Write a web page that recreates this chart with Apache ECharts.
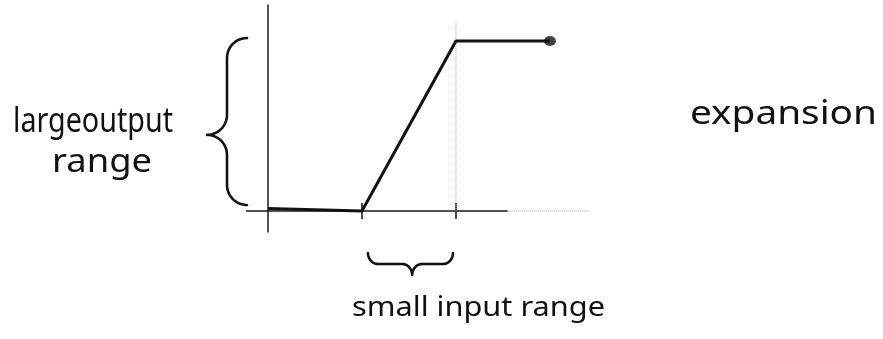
<!DOCTYPE html>
<html>
<head>
<meta charset="utf-8">
<script src="https://cdn.jsdelivr.net/npm/echarts@6/dist/echarts.min.js"></script>
<style>
  html, body { margin: 0; padding: 0; background: #fff; }
  #chart { width: 883px; height: 339px; }
</style>
</head>
<body>
<div id="chart"></div>
<script>
// Transfer curve of an expander: input level -> output level
const inputLevels = [0, 1, 2, 3];
const outputLevels = [0.015, 0, 1, 1];

// Edges of the small input range, marked on the input axis
const inputRangeTicks = [1, 2];

// Faint guide rising from the upper edge of the input range
const guideX = 2;
const guideTop = 1.12;

// Input axis: firmly drawn part, then a faint dotted continuation
const axisSolidEnd = 2.55;

// Visible extent of both axes
const xDomain = [-0.234, 3.426];
const yDomain = [-0.1235, 1.2118];

// Annotation texts
const outputLabelLines = ['largeoutput', 'range'];
const modeLabel = 'expansion';
const inputLabel = 'small input range';

const INK = '#111';
const FONT = '"Noto Sans", "DejaVu Sans", sans-serif';

const chart = echarts.init(document.getElementById('chart'), null, { renderer: 'canvas' });

chart.setOption({
  animation: false,
  backgroundColor: '#fff',
  grid: { left: 246, right: 293, top: 5, bottom: 107 },
  xAxis: {
    type: 'value', min: xDomain[0], max: xDomain[1],
    axisLine: { show: false }, axisTick: { show: false },
    axisLabel: { show: false }, splitLine: { show: false }
  },
  yAxis: {
    type: 'value', min: yDomain[0], max: yDomain[1],
    axisLine: { show: true, onZero: true, lineStyle: { color: '#1a1a1a', width: 1.5 } },
    axisTick: { show: false }, axisLabel: { show: false }, splitLine: { show: false }
  },
  series: [
    {
      name: 'input axis', type: 'line', symbol: 'none', silent: true,
      data: [[xDomain[0], 0], [axisSolidEnd, 0]],
      lineStyle: { color: '#1a1a1a', width: 1.4 }
    },
    {
      name: 'input axis (faint)', type: 'line', symbol: 'none', silent: true,
      data: [[axisSolidEnd, 0], [xDomain[1], 0]],
      lineStyle: { color: '#999', width: 1, type: 'dotted' }
    },
    {
      name: 'guide', type: 'line', symbol: 'none', silent: true,
      data: [[guideX, 0], [guideX, guideTop]],
      lineStyle: { color: '#aaa', width: 1, type: 'dotted' }
    },
    {
      name: 'range edges', type: 'scatter', silent: true,
      symbol: 'rect', symbolSize: [2, 16],
      itemStyle: { color: '#1a1a1a' },
      data: inputRangeTicks.map(x => [x, 0])
    },
    {
      name: 'transfer', type: 'line', symbol: 'none', smooth: false,
      data: inputLevels.map((x, i) => [x, outputLevels[i]]),
      lineStyle: { color: INK, width: 3 }
    },
    {
      name: 'end', type: 'scatter', symbol: 'circle', symbolSize: [12, 10],
      itemStyle: { color: INK },
      data: [[inputLevels[inputLevels.length - 1], outputLevels[outputLevels.length - 1]]]
    }
  ]
});

// ---- annotations: curly braces and handwritten-style captions ----
const toPx = (x, y) => chart.convertToPixel({ gridIndex: 0 }, [x, y]);

// Curly brace from a to b; the tip bulges along normal n by `depth`.
function bracePoints(a, b, n, depth, tipFrac, hook) {
  const dx = b[0] - a[0], dy = b[1] - a[1];
  const L = Math.hypot(dx, dy);
  const e = [dx / L, dy / L];
  const A = L * tipFrac;
  const h = depth / 2;
  const pts = [];
  const put = (u, v) => pts.push([a[0] + e[0] * u + n[0] * v, a[1] + e[1] * u + n[1] * v]);
  const steps = 12;
  for (let i = 0; i <= steps; i++) {
    const t = (Math.PI / 2) * i / steps;
    put(hook * (1 - Math.cos(t)), h * Math.sin(t));
  }
  for (let i = 0; i <= steps; i++) {
    const t = (Math.PI / 2) * i / steps;
    put(A - hook + hook * Math.sin(t), h + h * (1 - Math.cos(t)));
  }
  for (let i = 0; i <= steps; i++) {
    const s = (Math.PI / 2) * i / steps;
    put(A + hook * (1 - Math.cos(s)), depth - h * Math.sin(s));
  }
  for (let i = 0; i <= steps; i++) {
    const s = (Math.PI / 2) * i / steps;
    put(L - hook + hook * Math.sin(s), h * Math.cos(s));
  }
  return pts;
}

const measureCtx = document.createElement('canvas').getContext('2d');
function caption(text, left, baseline, size, width) {
  measureCtx.font = size + 'px ' + FONT;
  const w = measureCtx.measureText(text).width;
  return {
    type: 'text', x: left, y: baseline - size * 0.32,
    scaleX: width / w, silent: true,
    style: {
      text: text, x: 0, y: 0, fill: INK,
      font: size + 'px ' + FONT,
      align: 'left', verticalAlign: 'middle'
    }
  };
}

const origin = toPx(0, 0);
const topOut = toPx(0, 1);
const inLo = toPx(inputRangeTicks[0], 0);
const inHi = toPx(inputRangeTicks[1], 0);

const leftBrace = bracePoints(
  [origin[0] - 21, topOut[1] - 3], [origin[0] - 21, origin[1] - 6],
  [-1, 0], 40, 0.58, 20
);
const bottomBrace = bracePoints(
  [inLo[0] + 6, origin[1] + 42], [inHi[0] - 3, origin[1] + 42],
  [0, 1], 22, 0.52, 10
);

chart.setOption({
  graphic: [
    { type: 'polyline', silent: true, shape: { points: leftBrace },
      style: { stroke: INK, lineWidth: 2.6, fill: null, lineCap: 'round', lineJoin: 'round' } },
    { type: 'polyline', silent: true, shape: { points: bottomBrace },
      style: { stroke: INK, lineWidth: 2.6, fill: null, lineCap: 'round', lineJoin: 'round' } },
    caption(outputLabelLines[0], 13, 133, 34, 160),
    caption(outputLabelLines[1], 52, 173, 32, 100),
    caption(modeLabel, 690, 125, 33, 187),
    caption(inputLabel, 352, 317, 27, 253)
  ]
});
</script>
</body>
</html>
